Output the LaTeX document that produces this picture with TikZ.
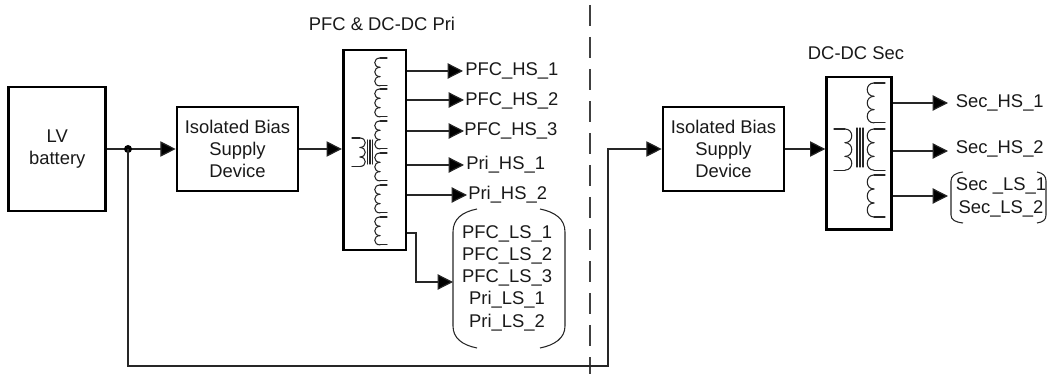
\documentclass[tikz,border=0pt]{standalone}
\usepackage{fontspec}
\setmainfont{Liberation Sans}
\usetikzlibrary{arrows.meta}
\tikzset{
  x=0.75pt,y=-0.75pt,
  lbl/.style={inner sep=0pt,font=\fontsize{13.8}{16.7}\selectfont,align=center,text=black!90},
  boxn/.style={draw=black,line width=2pt,inner sep=0pt,align=center,font=\fontsize{13.8}{16.7}\selectfont,text=black!90},
  wire/.style={draw=black!85,line width=0.9pt},
  arr/.style={wire,-{Triangle[length=11.5pt,width=11.5pt,fill=black]}},
  coilw/.style={draw=black!85,line width=0.8pt,line cap=round},
  brk/.style={draw=black!85,line width=0.8pt},
}
% \coilL{lead x}{base x}{top y}{turns}{turn height}{depth}: bumps to the left
\newcommand{\coilL}[6]{%
  \foreach \k in {1,...,#4}{%
    \pgfmathsetmacro\ya{#3+(\k-1)*#5}%
    \pgfmathsetmacro\yb{#3+\k*#5}%
    \draw[coilw] (#2,\ya) .. controls (#2-#6,\ya) and (#2-#6,\yb) .. (#2,\yb);%
  }%
  \pgfmathsetmacro\yc{#3+#4*#5}%
  \draw[coilw] (#2,#3) -- (#1,#3);
  \draw[coilw] (#2,\yc) -- (#1,\yc);
}
\newcommand{\coilR}[6]{%
  \foreach \k in {1,...,#4}{%
    \pgfmathsetmacro\ya{#3+(\k-1)*#5}%
    \pgfmathsetmacro\yb{#3+\k*#5}%
    \draw[coilw] (#2,\ya) .. controls (#2+#6,\ya) and (#2+#6,\yb) .. (#2,\yb);%
  }%
  \pgfmathsetmacro\yc{#3+#4*#5}%
  \draw[coilw] (#2,#3) -- (#1,#3);
  \draw[coilw] (#2,\yc) -- (#1,\yc);
}
\begin{document}
\begin{tikzpicture}
\useasboundingbox (0,0) rectangle (1047,374);
% boxes
\node[boxn,minimum width=72.75pt,minimum height=93pt] (lv) at (57.3,149) {LV\\battery};
\node[boxn,minimum width=90.75pt,minimum height=63pt] (iso1) at (237.5,149) {Isolated Bias\\Supply\\Device};
\node[boxn,minimum width=47pt,minimum height=150pt] (tr1) at (374.5,150) {};
\node[boxn,minimum width=90.75pt,minimum height=63pt] (iso2) at (723.5,149) {Isolated Bias\\Supply\\Device};
\node[boxn,minimum width=48.5pt,minimum height=114.5pt] (tr2) at (859,153.5) {};
% titles
\node[lbl] (t1) at (382,24) {PFC \& DC-DC Pri};
\node[lbl] (t2) at (856,53) {DC-DC Sec};
% dashed divider
\coordinate (dt) at (590,5);
\coordinate (db) at (590,374);
\draw[draw=black!75,line width=0.9pt,dash pattern=on 15.75pt off 8.25pt] (dt) -- (db);
% output labels
\node[lbl,anchor=west] (p1) at (465,71) {PFC\_HS\_1};
\node[lbl,anchor=west] (p2) at (465,101) {PFC\_HS\_2};
\node[lbl,anchor=west] (p3) at (464,131) {PFC\_HS\_3};
\node[lbl,anchor=west] (p4) at (466,165) {Pri\_HS\_1};
\node[lbl,anchor=west] (p5) at (468,195) {Pri\_HS\_2};
\node[lbl] (pls) at (507,278) {PFC\_LS\_1\\PFC\_LS\_2\\PFC\_LS\_3\\Pri\_LS\_1\\Pri\_LS\_2};
\node[lbl,anchor=west] (s1) at (955.5,103) {Sec\_HS\_1};
\node[lbl,anchor=west] (s2) at (955.5,149) {Sec\_HS\_2};
\node[lbl] (s3) at (1001,197.5) {Sec \_LS\_1\\Sec\_LS\_2};
% brackets
\draw[brk] (477,209) .. controls (462,212) and (453,219) .. (453,232) -- (453,326) .. controls (453,338) and (462,345) .. (477,348);
\draw[brk] (540,209) .. controls (555,212) and (565,219) .. (565,232) -- (565,326) .. controls (565,338) and (555,345) .. (540,348);
\draw[brk] (963,172) .. controls (955,173) and (951,176) .. (951,181) -- (951,215) .. controls (951,220) and (955,222) .. (963,223);
\draw[brk] (1037,172) .. controls (1043,173) and (1046,176) .. (1046,181) -- (1046,215) .. controls (1046,220) and (1043,222) .. (1037,223);
% connectors
\coordinate (dot) at (128,149);
\draw[wire] (lv.east|-dot) -- (dot);
\draw[arr] (dot) -- (iso1.west|-dot);
\fill[black] (dot) circle[radius=4];
\draw[arr] (iso1.east|-dot) -- (tr1.west|-dot);
\coordinate (c1) at (128,366);
\coordinate (c2) at (608,366);
\coordinate (c3) at (608,149);
\draw[arr] (dot) -- (c1) -- (c2) -- (c3) -- (iso2.west|-c3);
\draw[arr] (iso2.east|-dot) -- (tr2.west|-dot);
\coordinate (e1) at (463,71);
\coordinate (e2) at (464,100);
\coordinate (e3) at (464,131);
\coordinate (e4) at (464,165);
\coordinate (e5) at (467,195);
\draw[arr] (tr1.east|-e1) -- (e1);
\draw[arr] (tr1.east|-e2) -- (e2);
\draw[arr] (tr1.east|-e3) -- (e3);
\draw[arr] (tr1.east|-e4) -- (e4);
\draw[arr] (tr1.east|-e5) -- (e5);
\coordinate (l1) at (416,233);
\coordinate (l2) at (416,282);
\coordinate (l3) at (453,282);
\draw[arr] (tr1.east|-l1) -- (l1) -- (l2) -- (l3);
\coordinate (f1) at (948,103);
\coordinate (f2) at (948,151);
\coordinate (f3) at (948,196);
\draw[arr] (tr2.east|-f1) -- (f1);
\draw[arr] (tr2.east|-f2) -- (f2);
\draw[arr] (tr2.east|-f3) -- (f3);
% left transformer windings
\coilL{387}{380}{58}{3}{9.3}{7}
\coilL{387}{380}{89}{3}{9.3}{7}
\coilL{387}{380}{121}{3}{9.3}{7}
\coilL{387}{380}{153}{3}{9.3}{7}
\coilL{387}{380}{185}{3}{9.3}{7}
\coilL{387}{380}{217}{3}{9.3}{7}
\coilR{352}{360}{138}{3}{9.5}{7}
\draw[coilw] (367.5,140) -- (367.5,164) (370,140) -- (370,164) (372.5,140) -- (372.5,164);
% right transformer windings
\coilL{885}{874}{83}{3}{13.3}{9}
\coilL{885}{874}{129}{3}{13.7}{9}
\coilL{885}{874}{175}{3}{14}{9}
\coilR{834}{845}{129}{3}{13.7}{9}
\draw[coilw] (857,128) -- (857,167) (860,128) -- (860,167) (863,128) -- (863,167);
\end{tikzpicture}
\end{document}
